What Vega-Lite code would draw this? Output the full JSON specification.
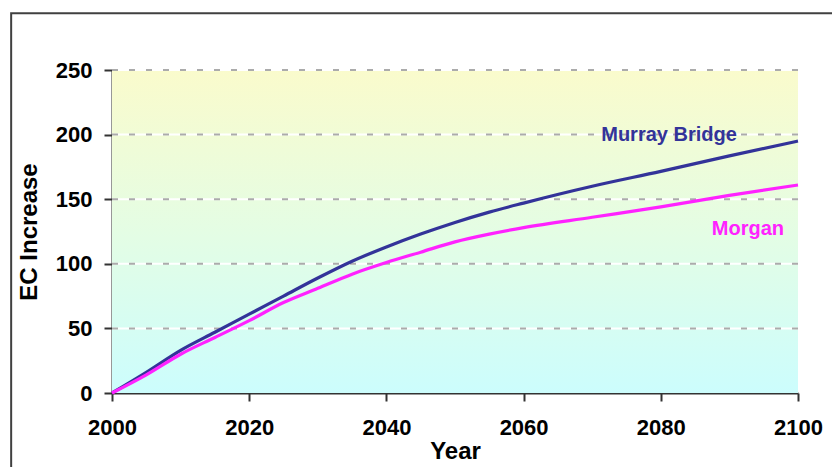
{
  "$schema": "https://vega.github.io/schema/vega-lite/v6.json",
  "width": 686,
  "height": 323,
  "autosize": {"type": "none"},
  "padding": {"left": 112, "top": 70, "right": 34, "bottom": 74},
  "background": "white",
  "config": {
    "view": {"stroke": null},
    "font": "Liberation Sans",
    "axis": {
      "grid": false,
      "zindex": 1,
      "domainColor": "#333333",
      "domainWidth": 2,
      "tickColor": "#333333",
      "tickWidth": 2,
      "labelFont": "Liberation Sans",
      "labelFontWeight": "bold",
      "labelFontSize": 22,
      "labelColor": "#000000",
      "labelFlush": false,
      "titleFont": "Liberation Sans",
      "titleFontWeight": "bold",
      "titleFontSize": 24,
      "titleColor": "#000000"
    }
  },
  "datasets": {
    "series": [
      {"year": 2000, "site": "Murray Bridge", "ec": 0},
      {"year": 2005, "site": "Murray Bridge", "ec": 16},
      {"year": 2010, "site": "Murray Bridge", "ec": 33},
      {"year": 2015, "site": "Murray Bridge", "ec": 47},
      {"year": 2020, "site": "Murray Bridge", "ec": 61},
      {"year": 2025, "site": "Murray Bridge", "ec": 75},
      {"year": 2030, "site": "Murray Bridge", "ec": 89},
      {"year": 2035, "site": "Murray Bridge", "ec": 102},
      {"year": 2040, "site": "Murray Bridge", "ec": 113},
      {"year": 2045, "site": "Murray Bridge", "ec": 123},
      {"year": 2050, "site": "Murray Bridge", "ec": 132},
      {"year": 2055, "site": "Murray Bridge", "ec": 140},
      {"year": 2060, "site": "Murray Bridge", "ec": 147},
      {"year": 2070, "site": "Murray Bridge", "ec": 160},
      {"year": 2080, "site": "Murray Bridge", "ec": 171.5},
      {"year": 2090, "site": "Murray Bridge", "ec": 183.5},
      {"year": 2100, "site": "Murray Bridge", "ec": 195},
      {"year": 2000, "site": "Morgan", "ec": 0},
      {"year": 2005, "site": "Morgan", "ec": 14},
      {"year": 2010, "site": "Morgan", "ec": 30},
      {"year": 2015, "site": "Morgan", "ec": 43},
      {"year": 2020, "site": "Morgan", "ec": 56},
      {"year": 2025, "site": "Morgan", "ec": 70},
      {"year": 2030, "site": "Morgan", "ec": 81},
      {"year": 2035, "site": "Morgan", "ec": 92},
      {"year": 2040, "site": "Morgan", "ec": 101},
      {"year": 2045, "site": "Morgan", "ec": 109},
      {"year": 2050, "site": "Morgan", "ec": 117},
      {"year": 2055, "site": "Morgan", "ec": 123},
      {"year": 2060, "site": "Morgan", "ec": 128},
      {"year": 2070, "site": "Morgan", "ec": 136},
      {"year": 2080, "site": "Morgan", "ec": 144},
      {"year": 2090, "site": "Morgan", "ec": 153},
      {"year": 2100, "site": "Morgan", "ec": 161}
    ],
    "gridlines": [{"ec": 50}, {"ec": 100}, {"ec": 150}, {"ec": 200}, {"ec": 250}],
    "labels": [
      {"site": "Murray Bridge", "year": 2081.2, "ec": 199.7},
      {"site": "Morgan", "year": 2092.7, "ec": 127}
    ]
  },
  "layer": [
    {
      "description": "outer chart frame",
      "data": {"values": [{}]},
      "mark": {"type": "rect", "fill": null, "stroke": "#404040", "strokeWidth": 2, "clip": false},
      "encoding": {
        "x": {"datum": 1985.3, "type": "quantitative", "scale": {"domain": [2000, 2100], "nice": false, "zero": false}},
        "x2": {"datum": 2115},
        "y": {"datum": 294, "type": "quantitative", "scale": {"domain": [0, 250], "nice": false}},
        "y2": {"datum": -80}
      }
    },
    {
      "description": "plot area gradient",
      "data": {"values": [{}]},
      "mark": {
        "type": "rect",
        "fill": {
          "gradient": "linear",
          "x1": 0, "y1": 0, "x2": 0, "y2": 1,
          "stops": [
            {"offset": 0, "color": "#FAFBCC"},
            {"offset": 0.5, "color": "#E4FDE4"},
            {"offset": 1, "color": "#CCFDFD"}
          ]
        }
      },
      "encoding": {
        "x": {"datum": 2000, "type": "quantitative"},
        "x2": {"datum": 2100},
        "y": {"datum": 250, "type": "quantitative"},
        "y2": {"datum": 0}
      }
    },
    {
      "data": {"name": "gridlines"},
      "mark": {"type": "rule", "color": "#FFFFFF", "strokeWidth": 2},
      "encoding": {"y": {"field": "ec", "type": "quantitative"}}
    },
    {
      "data": {"name": "gridlines"},
      "mark": {"type": "rule", "color": "#ABABAB", "strokeWidth": 2, "strokeDash": [6, 11]},
      "encoding": {"y": {"field": "ec", "type": "quantitative"}}
    },
    {
      "data": {"name": "series"},
      "mark": {"type": "line", "strokeWidth": 3.2, "interpolate": "monotone"},
      "encoding": {
        "x": {
          "field": "year", "type": "quantitative", "title": "Year",
          "axis": {"values": [2000, 2020, 2040, 2060, 2080, 2100], "format": "d", "tickSize": 8, "labelPadding": 16, "titlePadding": 1}
        },
        "y": {
          "field": "ec", "type": "quantitative", "title": "EC Increase",
          "axis": {"values": [0, 50, 100, 150, 200, 250], "format": "d", "tickSize": 8, "labelPadding": 12, "titlePadding": 14}
        },
        "color": {
          "field": "site", "type": "nominal",
          "scale": {"domain": ["Murray Bridge", "Morgan"], "range": ["#333399", "#FF22FF"]},
          "legend": null
        },
        "detail": {"field": "site"}
      }
    },
    {
      "data": {"name": "labels"},
      "mark": {"type": "text", "font": "Liberation Sans", "fontWeight": "bold", "fontSize": 20, "align": "center", "baseline": "middle"},
      "encoding": {
        "x": {"field": "year", "type": "quantitative"},
        "y": {"field": "ec", "type": "quantitative"},
        "text": {"field": "site"},
        "color": {"field": "site", "type": "nominal", "legend": null}
      }
    }
  ]
}
